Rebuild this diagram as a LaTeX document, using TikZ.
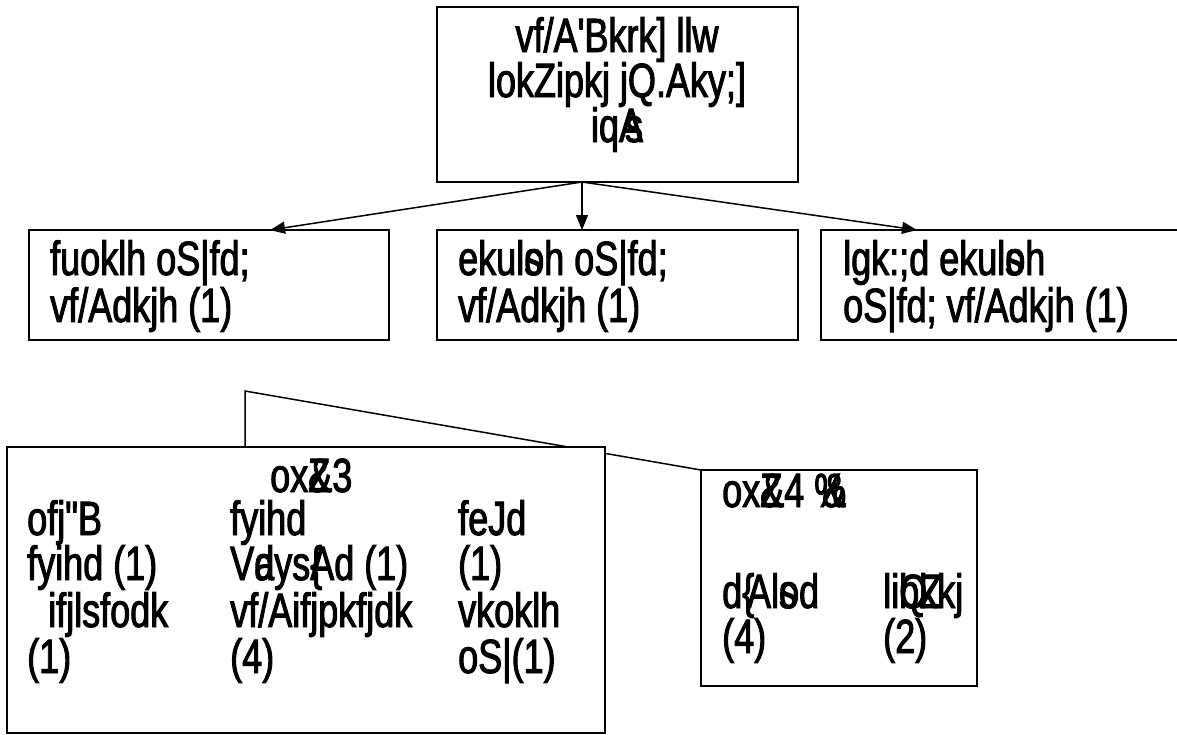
\documentclass[tikz,border=0pt]{standalone}
\usepackage{fontspec}
\setmainfont{Liberation Sans}[FakeStretch=0.75,FakeBold=2,Ligatures=TeXOff]
\usetikzlibrary{arrows.meta,backgrounds}
\begin{document}
\begin{tikzpicture}[x=1pt,y=-1pt,
  box/.style={draw,line width=1.5pt,fill=white,inner sep=0pt,outer sep=0pt,anchor=north west},
  txt/.style={anchor=base west,inner sep=0pt,font=\fontsize{48}{46}\selectfont},
  ctxt/.style={txt,anchor=base},
  arr/.style={line width=1.5pt,-{Triangle[length=15pt,width=12pt]}},
  conn/.style={line width=1.5pt}]
\useasboundingbox (0,0) rectangle (1177,734);
% boxes
\node[box,minimum width=361pt,minimum height=175pt] (top) at (437,7) {};
\node[box,minimum width=360pt,minimum height=110pt] (lb) at (29,230) {};
\node[box,minimum width=361pt,minimum height=110pt] (mb) at (437,230) {};
\node[box,minimum width=380pt,minimum height=110pt] (rb) at (821,230) {};
\node[box,minimum width=598pt,minimum height=286pt] (bl) at (7,447) {};
\node[box,minimum width=276pt,minimum height=216pt] (br) at (701,470) {};
\coordinate (knee) at (245,391);
\begin{pgfonlayer}{background}
\draw[conn] ([xshift=238pt]bl.north west) -- (knee) -- (br.north west);
\end{pgfonlayer}
% arrows
\draw[arr] ([xshift=145pt]top.south west) -- ([xshift=241pt]lb.north west);
\draw[arr] ([xshift=145pt]top.south west) -- ([xshift=145pt]mb.north west);
\draw[arr] ([xshift=145pt]top.south west) -- ([xshift=96pt]rb.north west);
% top texts
\node[ctxt] (t1) at (617,52) {vf/A'Bkrk] llw};
\node[ctxt] (t2) at (617,97) {lokZipkj jQ.Aky;]};
\node[ctxt] (t3) at (617,142) {iqA\llap{s}};
% row 2
\node[txt] (l1) at (50,275) {fuoklh oS|fd;};
\node[txt] (l2) at (50,322) {vf/Adkjh (1)};
\node[txt] (m1) at (458,275) {ekul\rlap{s}oh oS|fd;};
\node[txt] (m2) at (458,322) {vf/Adkjh (1)};
\node[txt] (r1) at (843,275) {lgk:;d ekul\rlap{s}oh};
\node[txt] (r2) at (843,322) {oS|fd; vf/Adkjh (1)};
% bottom left
\node[txt] (h3) at (270,492) {ox\rlap{Z}\&3};
\node[txt] (c11) at (27,535) {ofj"B};
\node[txt] (c12) at (27,580) {fyihd (1)};
\node[txt] (c13) at (48,627) {ifjlsfodk};
\node[txt] (c14) at (27,673) {(1)};
\node[txt] (c21) at (230,535) {fyihd};
\node[txt] (c22) at (230,580) {V\rlap{a}dys\rlap{\{}Ad (1)};
\node[txt] (c23) at (230,627) {vf/Aifjpkfjdk};
\node[txt] (c24) at (230,673) {(4)};
\node[txt] (c31) at (458,535) {feJd};
\node[txt] (c32) at (458,580) {(1)};
\node[txt] (c33) at (458,627) {vkoklh};
\node[txt] (c34) at (458,673) {oS|(1)};
% bottom right
\node[txt] (h4) at (722,507) {ox\rlap{Z}\&4 \%\llap{\&}};
\node[txt] (d1) at (722,608) {d\{\kern-0.15em Al\rlap{s}od};
\node[txt] (d2) at (722,653) {(4)};
\node[txt] (e1) at (883,608) {li\rlap{Q}b\rlap{Z}kkj};
\node[txt] (e2) at (883,653) {(2)};
\end{tikzpicture}
\end{document}
